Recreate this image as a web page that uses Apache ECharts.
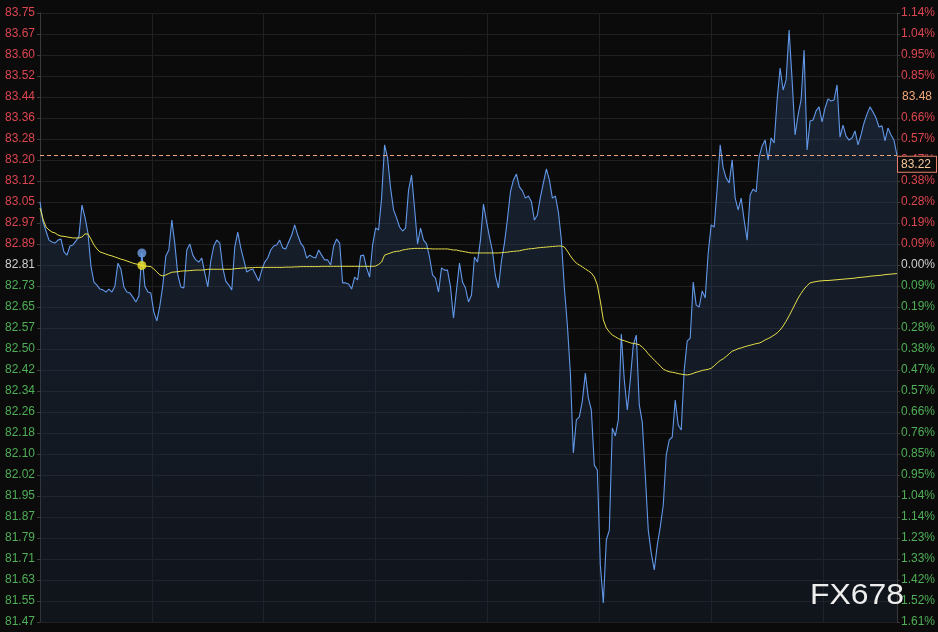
<!DOCTYPE html>
<html><head><meta charset="utf-8">
<script src="https://cdn.jsdelivr.net/npm/echarts@6/dist/echarts.min.js"></script>
<style>html,body{margin:0;padding:0;background:#0b0b0b;}#c{width:938px;height:632px;}</style>
</head><body><div id="c"></div>
<script>
// Tick labels (top to bottom)
const leftLabels = ['83.75','83.67','83.60','83.52','83.44','83.36','83.28','83.20','83.12','83.05','82.97','82.89','82.81','82.73','82.65','82.57','82.50','82.42','82.34','82.26','82.18','82.10','82.02','81.95','81.87','81.79','81.71','81.63','81.55','81.47'];
const rightLabels = ['1.14%','1.04%','0.95%','0.85%','0.76%','0.66%','0.57%','0.47%','0.38%','0.28%','0.19%','0.09%','0.00%','0.09%','0.19%','0.28%','0.38%','0.47%','0.57%','0.66%','0.76%','0.85%','0.95%','1.04%','1.14%','1.23%','1.33%','1.42%','1.52%','1.61%'];
const basePrice = 82.81;     // previous close (0.00%)
const priceStep = 0.0785;    // value between two tick labels

// Price (blue) in time order
const price = [
83.046,82.971,82.937,82.903,82.896,82.892,82.903,82.907,82.859,82.847,
82.881,82.885,82.900,82.918,83.034,82.989,82.930,82.806,82.746,82.735,
82.720,82.717,82.709,82.720,82.709,82.731,82.817,82.795,82.728,82.709,
82.705,82.690,82.672,82.694,82.855,82.731,82.709,82.705,82.634,82.601,
82.657,82.735,82.844,82.866,82.978,82.889,82.773,82.728,82.724,82.866,
82.889,82.847,82.829,82.821,82.836,82.780,82.728,82.825,82.881,82.903,
82.892,82.799,82.750,82.735,82.717,82.877,82.933,82.874,82.829,82.784,
82.791,82.795,82.773,82.750,82.791,82.821,82.836,82.866,82.881,82.885,
82.903,82.874,82.870,82.896,82.922,82.960,82.922,82.892,82.877,82.836,
82.847,82.840,82.836,82.866,82.847,82.829,82.829,82.810,82.881,82.907,
82.892,82.743,82.743,82.739,82.720,82.765,82.754,82.844,82.847,82.799,
82.765,82.885,82.948,82.941,83.060,83.259,83.210,83.098,83.016,82.986,
82.952,82.937,82.948,83.090,83.146,83.023,82.889,82.948,82.903,82.889,
82.840,82.773,82.761,82.709,82.799,82.791,82.791,82.728,82.612,82.717,
82.817,82.746,82.724,82.672,82.698,82.840,82.821,82.903,83.038,82.974,
82.915,82.862,82.769,82.724,82.825,82.892,82.982,83.083,83.128,83.150,
83.102,83.087,83.060,83.068,83.046,82.978,82.997,83.064,83.117,83.169,
83.128,83.060,83.068,83.008,82.903,82.724,82.586,82.406,82.107,82.231,
82.242,82.302,82.406,82.313,82.268,82.062,82.044,81.689,81.547,81.782,
81.819,82.201,82.171,82.231,82.552,82.380,82.268,82.380,82.511,82.548,
82.287,82.223,82.025,81.819,81.733,81.670,81.763,81.831,81.913,82.100,
82.156,82.167,82.305,82.212,82.193,82.418,82.526,82.537,82.746,82.660,
82.653,82.713,82.687,82.855,82.960,82.952,83.098,83.259,83.173,83.135,
83.117,83.203,83.060,83.016,83.060,82.978,82.903,83.072,83.094,83.083,
83.214,83.255,83.277,83.203,83.285,83.266,83.427,83.546,83.464,83.502,
83.688,83.502,83.296,83.371,83.427,83.614,83.240,83.348,83.352,83.386,
83.401,83.345,83.397,83.431,83.423,83.427,83.483,83.288,83.333,83.292,
83.277,83.285,83.311,83.259,83.296,83.341,83.374,83.401,83.382,83.360,
83.326,83.330,83.274,83.322,83.296,83.277,83.220
];

// Average price (yellow)
const avgPrice = [
83.023,82.982,82.952,82.941,82.933,82.930,82.922,82.918,82.917,82.915,82.913,82.911,82.911,82.911,82.915,82.926,82.926,
82.907,82.885,82.870,82.859,82.855,82.851,82.847,82.844,82.840,82.836,82.832,82.829,82.825,82.821,82.817,82.814,82.812,82.808,82.806,82.805,82.804,
82.795,82.784,82.773,82.769,82.773,82.778,82.783,82.784,82.785,82.787,82.788,82.788,82.789,82.790,82.791,82.791,82.791,82.792,82.794,
82.794,82.794,82.794,82.794,82.794,82.794,82.794,82.794,
82.796,82.797,82.798,82.799,82.799,82.800,
82.800,82.801,82.801,82.801,82.801,82.801,82.801,82.801,82.801,82.801,82.801,82.802,82.802,82.802,82.803,
82.803,82.804,82.804,82.804,82.804,82.804,82.804,82.804,82.805,82.805,82.805,82.805,82.805,82.805,82.805,82.805,82.805,82.805,82.805,82.805,82.805,82.805,82.805,82.805,82.805,82.805,
82.806,82.812,82.821,82.847,82.851,82.855,82.859,82.861,82.862,82.866,
82.868,82.870,82.871,82.872,82.872,82.872,82.872,82.872,82.871,
82.870,82.870,82.870,82.870,82.870,82.870,
82.868,82.866,82.866,82.863,82.861,82.859,
82.857,82.855,82.855,82.855,82.855,82.855,82.855,82.855,82.855,82.855,82.855,
82.856,82.857,82.858,82.860,82.861,82.862,82.863,
82.866,82.868,82.870,82.871,82.872,82.874,82.875,82.876,82.877,82.878,82.879,82.880,82.881,82.881,
82.877,82.862,82.844,82.829,82.817,82.810,82.803,82.795,82.788,82.780,
82.765,82.735,82.675,82.605,82.575,82.560,82.548,82.542,82.535,82.530,
82.527,82.523,82.519,82.517,82.515,82.512,82.503,82.492,82.478,82.466,
82.455,82.444,82.432,82.421,82.415,82.411,82.409,82.407,82.404,82.402,
82.400,82.399,82.401,82.405,82.409,82.412,82.416,82.418,82.420,82.424,
82.433,82.444,82.453,82.459,82.468,82.478,82.488,82.492,82.497,82.500,
82.504,82.507,82.510,82.513,82.516,82.518,82.523,82.530,82.535,82.541,
82.548,82.556,82.567,82.582,82.600,82.620,82.642,82.664,82.686,82.704,
82.720,82.733,82.743,82.746,82.748,82.750,
82.751,82.752,82.752,82.753,82.754,82.755,82.756,82.757,82.758,82.759,82.760,82.761,82.763,82.764,82.765,82.766,82.768,82.769,82.770,82.771,82.772,82.774,82.775,82.776,82.777,82.778
];

const lastPrice = 83.22;
const lastPriceText = '83.22';
const highlightValue = 83.44;
const highlightText = '83.48';
const cursorIndex = 34;
const watermarkText = 'FX678';

const chart = echarts.init(document.getElementById('c'), null, {renderer: 'canvas'});
const yMin = basePrice - 17 * priceStep;
const yMax = basePrice + 12 * priceStep;
const idx = v => 12 - Math.round((v - basePrice) / priceStep);
const RED = '#dc4650', GREEN = '#4fae57', GREY = '#cfcfcf';
const colorFor = v => { const i = idx(v); return i < 12 ? RED : (i === 12 ? GREY : GREEN); };
const FONT = 'Liberation Sans, Arial, sans-serif';

const yBase = {
  type: 'value', min: yMin, max: yMax, interval: priceStep, scale: true,
  axisLine: {show: true, lineStyle: {color: '#3a3a3a'}},
  axisTick: {show: true, length: 3, lineStyle: {color: '#3c3c3c'}},
};

const option = {
  backgroundColor: '#0b0b0b',
  animation: false,
  grid: {left: 40, right: 40, top: 13, bottom: 10, containLabel: false},
  xAxis: [{
    type: 'value', min: 0, max: price.length - 1, interval: (price.length - 1) * 112 / 858,
    axisLine: {show: false}, axisTick: {show: false}, axisLabel: {show: false},
    splitLine: {show: true, lineStyle: {color: '#1e2024', width: 1}}
  }],
  yAxis: [
    Object.assign({}, yBase, {
      position: 'left',
      axisLabel: {margin: 5, fontSize: 12, fontFamily: FONT,
        formatter: v => leftLabels[idx(v)] || '', color: colorFor},
      splitLine: {show: true, lineStyle: {color: '#202020', width: 1}}
    }),
    Object.assign({}, yBase, {
      position: 'right',
      axisLabel: {margin: 4, fontSize: 12, fontFamily: FONT,
        formatter: v => rightLabels[idx(v)] || '', color: colorFor},
      splitLine: {show: false}
    })
  ],
  series: [
    {
      type: 'line', name: 'price', data: price.map((v, i) => [i, v]),
      showSymbol: false, symbol: 'none', lineStyle: {color: '#6197e8', width: 1.1},
      areaStyle: {origin: 'start', color: new echarts.graphic.LinearGradient(0, 0, 0, 1, [
        {offset: 0, color: 'rgba(48,74,115,0.55)'}, {offset: 1, color: 'rgba(26,38,58,0.5)'}])},
      z: 3,
      markLine: {
        silent: true, symbol: 'none', animation: false,
        data: [
          {yAxis: lastPrice, lineStyle: {type: [4, 3], color: '#eea47a', width: 1},
           label: {show: true, position: 'end', formatter: lastPriceText, color: '#f4c79a', fontSize: 12,
             fontFamily: FONT,
             backgroundColor: '#0b0b0b', borderColor: '#e6826c', borderWidth: 1, padding: [2, 5, 1, 3],
             distance: 1, offset: [0, 9]}},
          {yAxis: highlightValue, lineStyle: {color: 'rgba(0,0,0,0)', width: 0},
           label: {show: true, position: 'end', formatter: highlightText, color: '#f0a878', fontSize: 12,
             fontFamily: FONT,
             backgroundColor: '#0b0b0b', padding: [2, 8, 2, 3], distance: 2}}
        ]
      }
    },
    {
      type: 'line', name: 'avg', data: avgPrice.map((v, i) => [i, v]),
      showSymbol: false, symbol: 'none', lineStyle: {color: '#e6df4a', width: 1}, z: 4
    },
    {
      type: 'scatter', data: [[cursorIndex, price[cursorIndex]]], symbolSize: 9,
      itemStyle: {color: '#6e9fe8'}, z: 6
    },
    {
      type: 'scatter', data: [[cursorIndex, avgPrice[cursorIndex]]], symbolSize: 9,
      itemStyle: {color: '#f4e628'}, z: 6
    }
  ],
  graphic: [{
    type: 'text', x: 810, y: 596, scaleX: 1.1, z: 100,
    style: {text: watermarkText, fill: '#eeeeee', font: 'normal 29px "Liberation Sans", Arial, sans-serif',
      align: 'left', verticalAlign: 'middle'}
  }]
};
chart.setOption(option);
</script>
</body></html>
